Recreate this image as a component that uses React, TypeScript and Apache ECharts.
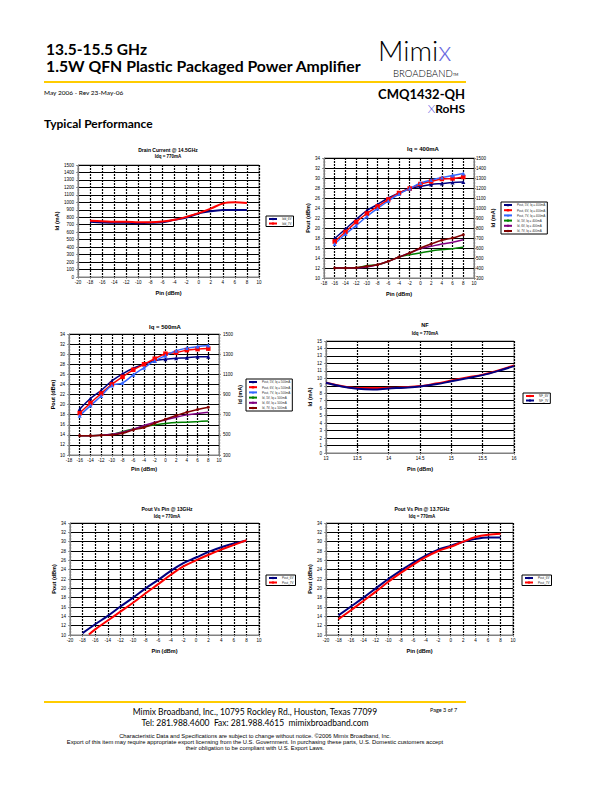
import React, { useEffect, useRef } from "react";
import * as echarts from "echarts";

const FONT = "'Liberation Sans', Arial, sans-serif";
const HFONT = "Lato, 'Open Sans', sans-serif";

// ---- Chart 1: Drain Current @ 14.5GHz ----
const c1Pin = [-18, -16, -14, -12, -10, -8, -6, -4, -2, 0, 2, 4, 6, 8];
const c1Id6V = [739, 730, 725, 725, 721, 725, 734, 766, 797, 851, 880, 896, 898, 898];
const c1Id7V = [752, 748, 739, 739, 734, 734, 743, 766, 806, 855, 915, 985, 1000, 992];
const c1Names = ["Idd_6V", "Idd_7V"];

// ---- Chart 2: Iq = 400mA ----
const c2Pin = [-16, -14, -12, -10, -8, -6, -4, -2, 0, 2, 4, 6, 8];
const c2Pout5 = [17.9, 19.8, 21.7, 23.5, 24.7, 26.0, 27.0, 27.9, 28.3, 28.7, 28.9, 29.1, 29.2];
const c2Pout6 = [17.3, 19.2, 21.2, 22.9, 24.3, 25.7, 27.0, 27.9, 28.8, 29.3, 29.8, 29.9, 30.2];
const c2Pout7 = [16.8, 18.8, 20.5, 22.3, 23.9, 25.4, 26.8, 27.9, 29.0, 29.6, 30.1, 30.5, 30.9];
const c2Id5 = [400, 400, 403, 423, 433, 467, 510, 533, 550, 570, 583, 593, 607];
const c2Id6 = [400, 400, 400, 410, 433, 467, 510, 550, 593, 617, 640, 657, 683];
const c2Id7 = [400, 400, 403, 417, 433, 467, 510, 550, 600, 640, 677, 700, 733];
const c2Names = [
  "Pout, 5V, Iq = 400mA",
  "Pout, 6V, Iq = 400mA",
  "Pout, 7V, Iq = 400mA",
  "Id, 5V, Iq = 400mA",
  "Id, 6V, Iq = 400mA",
  "Id, 7V, Iq = 400mA",
];

// ---- Chart 3: Iq = 500mA ----
const c3Pin = [-16, -14, -12, -10, -8, -6, -4, -2, 0, 2, 4, 6, 8];
const c3Pout5 = [19.1, 21.2, 22.8, 24.7, 26.1, 27.2, 28.0, 28.7, 29.0, 29.2, 29.3, 29.5, 29.5];
const c3Pout6 = [18.3, 20.3, 22.2, 24.0, 25.5, 26.9, 28.0, 29.1, 30.1, 30.3, 30.8, 31.0, 31.1];
const c3Pout7 = [17.8, 19.8, 21.7, 23.8, 24.3, 25.9, 27.3, 28.7, 29.7, 30.7, 31.2, 31.5, 31.7];
const c3Id5 = [492, 492, 495, 505, 532, 558, 582, 598, 612, 622, 625, 631, 638];
const c3Id6 = [492, 492, 495, 505, 525, 555, 592, 625, 648, 675, 698, 711, 724];
const c3Id7 = [492, 492, 495, 499, 515, 549, 572, 615, 655, 691, 724, 751, 774];
const c3Names = [
  "Pout, 5V, Iq = 500mA",
  "Pout, 6V, Iq = 500mA",
  "Pout, 7V, Iq = 500mA",
  "Id, 5V, Iq = 500mA",
  "Id, 6V, Iq = 500mA",
  "Id, 7V, Iq = 500mA",
];

// ---- Chart 4: NF ----
const c4Freq = [13, 13.25, 13.5, 13.75, 14, 14.25, 14.5, 14.75, 15, 15.25, 15.5, 15.75, 16];
const c4NF6 = [9.4, 8.96, 8.7, 8.69, 8.73, 8.82, 8.96, 9.3, 9.7, 10.1, 10.5, 11.06, 11.73];
const c4NF7 = [9.4, 8.9, 8.6, 8.5, 8.64, 8.75, 8.9, 9.2, 9.6, 10.0, 10.43, 11.0, 11.64];
const c4Names = ["NF_6V", "NF_7V"];

// ---- Chart 5: Pout Vs Pin @ 13GHz ----
const c5Pin6 = [-18, -16, -14, -12, -10, -8, -6, -4, -2, 0, 2, 4, 6, 8];
const c5Pout6 = [10.4, 12.3, 14.1, 16.1, 18.0, 20.0, 21.8, 23.75, 25.4, 26.6, 27.8, 28.8, 29.6, 30.2];
const c5Pin7 = [-17, -16, -14, -12, -10, -8, -6, -4, -2, 0, 2, 4, 6, 8];
const c5Pout7 = [10.1, 11.2, 13.1, 15.0, 16.9, 18.95, 20.9, 22.9, 24.7, 26.0, 27.2, 28.3, 29.3, 30.3];
const c5Names = ["Pout_6V", "Pout_7V"];

// ---- Chart 6: Pout Vs Pin @ 13.7GHz ----
const c6Pin = [-18, -16, -14, -12, -10, -8, -6, -4, -2, 0, 2, 4, 6, 8];
const c6Pout6 = [14.2, 16.1, 18.0, 20.0, 22.0, 23.8, 25.5, 27.0, 28.3, 29.1, 30.0, 30.6, 30.9, 30.9];
const c6Pout7 = [13.4, 15.3, 17.3, 19.3, 21.4, 23.3, 25.1, 26.7, 28.0, 28.9, 30.0, 31.0, 31.5, 31.7];
const c6Names = ["Pout_6V", "Pout_7V"];

const NAVY = "#000080";
const RED = "#FF0000";
const LBLUE = "#3366FF";
const GREEN = "#008000";
const PURPLE = "#800080";
const BROWN = "#800000";
const YELLOW = "#FFCC00";

const pairs = (xs: number[], ys: number[]) => xs.map((x, i) => [x, ys[i]]);

const axisLine = { show: true, onZero: false, lineStyle: { color: "#808080", width: 1 } };
const axisTick = { show: true, length: 2, lineStyle: { color: "#808080", width: 0.8 } };
const labelStyle = (margin: number) => ({
  fontSize: 4.5,
  color: "#000",
  fontFamily: FONT,
  margin,
  formatter: (v: number) => String(v),
});
const nameStyle = { fontSize: 5.5, fontWeight: "bold" as const, color: "#000", fontFamily: FONT };

function xAxis(gridIndex: number, min: number, max: number, interval: number, nameGap: number) {
  return {
    type: "value",
    gridIndex,
    min,
    max,
    interval,
    name: "Pin (dBm)",
    nameLocation: "middle",
    nameGap,
    nameTextStyle: nameStyle,
    axisLine,
    axisTick,
    axisLabel: labelStyle(3),
    splitLine: { show: true, lineStyle: { color: "#000", width: 1.2, type: [2, 1] } },
  };
}

function yAxis(
  gridIndex: number,
  min: number,
  max: number,
  interval: number,
  name: string,
  nameGap: number,
  position: "left" | "right" = "left",
  grid = true,
  labelMargin = 4
) {
  return {
    type: "value",
    gridIndex,
    min,
    max,
    interval,
    position,
    name,
    nameLocation: "middle",
    nameGap,
    nameTextStyle: nameStyle,
    axisLine,
    axisTick,
    axisLabel: labelStyle(labelMargin),
    splitLine: { show: grid, lineStyle: { color: "#000", width: 1.2 } },
  };
}

function line(
  name: string,
  xi: number,
  yi: number,
  data: number[][],
  color: string,
  width = 1.8,
  symbol = "none",
  symbolSize = 4
) {
  return {
    type: "line",
    name,
    xAxisIndex: xi,
    yAxisIndex: yi,
    data,
    smooth: 0.35,
    symbol,
    symbolSize,
    showSymbol: symbol !== "none",
    lineStyle: { color, width },
    itemStyle: { color },
    z: 5,
  };
}

function legend(data: string[], left: number, top: number, itemGap: number) {
  return {
    data,
    left,
    top,
    orient: "vertical",
    itemWidth: 8,
    itemHeight: 3,
    itemGap,
    padding: [1.5, 2, 1.5, 2],
    borderColor: "#000",
    borderWidth: 1,
    backgroundColor: "#fff",
    textStyle: { fontSize: 3, color: "#333", fontFamily: FONT },
  };
}

const txt = (
  text: string,
  x: number,
  y: number,
  fontSize: number,
  opts: Record<string, any> = {}
) => ({
  type: "text",
  x,
  y,
  silent: true,
  style: {
    text,
    fontSize,
    lineHeight: opts.lineHeight || fontSize,
    fontFamily: opts.fontFamily || FONT,
    fontWeight: opts.fontWeight || "normal",
    fill: opts.fill || "#000",
    align: opts.align || "center",
    verticalAlign: "middle",
  },
});

const hline = (x1: number, x2: number, y: number) => ({
  type: "line",
  silent: true,
  shape: { x1, y1: y, x2, y2: y },
  style: { stroke: YELLOW, lineWidth: 2.2 },
});

export default function App() {
  const ref = useRef<HTMLDivElement>(null);

  useEffect(() => {
    if (!ref.current) return;
    const chart = echarts.init(ref.current, undefined, { renderer: "svg" });

    const gridBase = { show: true, borderColor: "#808080", borderWidth: 1, backgroundColor: "#fff" };

    const option: any = {
      animation: false,
      grid: [
        { ...gridBase, left: 78, top: 165, width: 181, height: 112 },
        { ...gridBase, left: 324, top: 158, width: 150, height: 120 },
        { ...gridBase, left: 69, top: 334, width: 150, height: 121 },
        { ...gridBase, left: 326, top: 341, width: 188, height: 112 },
        { ...gridBase, left: 70, top: 523, width: 189, height: 112 },
        { ...gridBase, left: 326, top: 523, width: 187, height: 112 },
      ],
      xAxis: [
        xAxis(0, -20, 10, 2, 13),
        xAxis(1, -18, 10, 2, 13),
        xAxis(2, -18, 10, 2, 11),
        xAxis(3, 13, 16, 0.5, 12.5),
        xAxis(4, -20, 10, 2, 12.5),
        xAxis(5, -20, 10, 2, 13),
      ],
      yAxis: [
        yAxis(0, 0, 1500, 100, "Id (mA)", 16),
        yAxis(1, 10, 34, 2, "Pout (dBm)", 9.5),
        yAxis(1, 300, 1500, 100, "Id (mA)", 8, "right", false, 2),
        yAxis(2, 10, 34, 2, "Pout (dBm)", 11),
        yAxis(2, 300, 1500, 200, "Id (mA)", 14, "right", false, 4),
        yAxis(3, 0, 15, 1, "Id (mA)", 13),
        yAxis(4, 10, 34, 2, "Pout (dBm)", 12),
        yAxis(5, 10, 34, 2, "Pout (dBm)", 13),
      ],
      legend: [
        legend(c1Names, 266, 216, 1.5),
        legend(c2Names, 501, 202, 2.2),
        legend(c3Names, 246, 379, 2.2),
        legend(c4Names, 523, 393, 1.5),
        legend(c5Names, 266, 575, 1.5),
        legend(c6Names, 522, 575, 1.5),
      ],
      series: [
        // chart 1
        line(c1Names[0], 0, 0, pairs(c1Pin, c1Id6V), NAVY, 2),
        line(c1Names[1], 0, 0, pairs(c1Pin, c1Id7V), RED, 2),
        // chart 2
        line(c2Names[0], 1, 1, pairs(c2Pin, c2Pout5), NAVY, 1.5, "triangle", 4),
        line(c2Names[1], 1, 1, pairs(c2Pin, c2Pout6), RED, 1.5, "rect", 4.5),
        line(c2Names[2], 1, 1, pairs(c2Pin, c2Pout7), LBLUE, 1.5, "triangle", 4),
        line(c2Names[3], 1, 2, pairs(c2Pin, c2Id5), GREEN, 1.5),
        line(c2Names[4], 1, 2, pairs(c2Pin, c2Id6), PURPLE, 1.5),
        line(c2Names[5], 1, 2, pairs(c2Pin, c2Id7), BROWN, 1.5, "circle", 3),
        // chart 3
        line(c3Names[0], 2, 3, pairs(c3Pin, c3Pout5), NAVY, 1.5, "triangle", 4),
        line(c3Names[1], 2, 3, pairs(c3Pin, c3Pout6), RED, 1.5, "rect", 4.5),
        line(c3Names[2], 2, 3, pairs(c3Pin, c3Pout7), LBLUE, 1.5, "triangle", 4),
        line(c3Names[3], 2, 4, pairs(c3Pin, c3Id5), GREEN, 1.5),
        line(c3Names[4], 2, 4, pairs(c3Pin, c3Id6), PURPLE, 1.5),
        line(c3Names[5], 2, 4, pairs(c3Pin, c3Id7), BROWN, 1.5, "circle", 3),
        // chart 4
        line(c4Names[0], 3, 5, pairs(c4Freq, c4NF6), RED, 2),
        line(c4Names[1], 3, 5, pairs(c4Freq, c4NF7), NAVY, 2),
        // chart 5
        line(c5Names[0], 4, 6, pairs(c5Pin6, c5Pout6), NAVY, 2),
        line(c5Names[1], 4, 6, pairs(c5Pin7, c5Pout7), RED, 2),
        // chart 6
        line(c6Names[0], 5, 7, pairs(c6Pin, c6Pout6), NAVY, 2),
        line(c6Names[1], 5, 7, pairs(c6Pin, c6Pout7), RED, 2),
      ],
      graphic: [
        // header
        txt("13.5-15.5 GHz", 46, 48.5, 15.5, { fontFamily: HFONT, fontWeight: "bold", align: "left" }),
        txt("1.5W QFN Plastic Packaged Power Amplifier", 46, 65.5, 15.8, {
          fontFamily: HFONT,
          fontWeight: "bold",
          align: "left",
        }),
        {
          type: "text",
          x: 378,
          y: 50,
          silent: true,
          style: {
            text: "{a|Mimi}{b|x}",
            verticalAlign: "middle",
            align: "left",
            lineHeight: 22,
            rich: {
              a: { fontSize: 28, lineHeight: 22, fontFamily: HFONT, fontWeight: 300, fill: "#000" },
              b: { fontSize: 28, lineHeight: 22, fontFamily: HFONT, fontWeight: 300, fill: "#6A6AE0" },
            },
          },
        },
        txt("BROADBAND", 393, 73, 9.6, { fontFamily: HFONT, fontWeight: 300, align: "left" }),
        txt("TM", 453, 75, 3.5, { fontFamily: HFONT, align: "left" }),
        hline(44, 466, 82),
        txt("May 2006 - Rev 23-May-06", 44, 92, 6.5, { fontFamily: HFONT, align: "left" }),
        txt("CMQ1432-QH", 465, 94, 13, { fontFamily: HFONT, fontWeight: "bold", align: "right" }),
        {
          type: "text",
          x: 465,
          y: 108,
          silent: true,
          style: {
            text: "{b|X}{a|RoHS}",
            verticalAlign: "middle",
            align: "right",
            lineHeight: 12,
            rich: {
              a: { fontSize: 12, lineHeight: 12, fontFamily: HFONT, fontWeight: "bold", fill: "#000" },
              b: { fontSize: 12, lineHeight: 12, fontFamily: HFONT, fontWeight: 300, fill: "#4A4AE0" },
            },
          },
        },
        txt("Typical Performance", 44, 123, 12, { fontFamily: HFONT, fontWeight: "bold", align: "left" }),
        // chart titles
        txt("Drain Current @ 14.5GHz", 168, 150, 5, { fontWeight: "bold" }),
        txt("Idq = 770mA", 168, 156, 4.5, { fontWeight: "bold" }),
        txt("Iq = 400mA", 423, 149, 6, { fontWeight: "bold" }),
        txt("Iq = 500mA", 165, 327, 6, { fontWeight: "bold" }),
        txt("NF", 425, 325, 5.5, { fontWeight: "bold" }),
        txt("Idq = 770mA", 425, 333, 4.5, { fontWeight: "bold" }),
        txt("Pout Vs Pin @ 13GHz", 167, 509, 5, { fontWeight: "bold" }),
        txt("Idq = 770mA", 167, 516, 4.5, { fontWeight: "bold" }),
        txt("Pout Vs Pin @ 13.7GHz", 422, 509, 5, { fontWeight: "bold" }),
        txt("Idq = 770mA", 422, 516, 4.5, { fontWeight: "bold" }),
        // footer
        hline(44, 466, 702),
        txt("Mimix Broadband, Inc., 10795 Rockley Rd., Houston, Texas 77099", 255, 712, 8.5, {
          fontFamily: HFONT,
        }),
        txt("Tel: 281.988.4600  Fax: 281.988.4615  mimixbroadband.com", 255, 722.5, 8.5, {
          fontFamily: HFONT,
        }),
        txt("Page 3 of 7", 430, 710, 5.5, { fontFamily: HFONT, align: "left" }),
        txt(
          "Characteristic Data and Specifications are subject to change without notice. ©2006 Mimix Broadband, Inc.",
          255,
          736,
          5.8,
          { lineHeight: 5.6 }
        ),
        txt(
          "Export of this item may require appropriate export licensing from the U.S. Government. In purchasing these parts, U.S. Domestic customers accept",
          255,
          742,
          5.8,
          { lineHeight: 5.6 }
        ),
        txt("their obligation to be compliant with U.S. Export Laws.", 255, 748, 5.8, { lineHeight: 5.6 }),
      ],
    };

    chart.setOption(option);
    return () => chart.dispose();
  }, []);

  return (
    <div
      ref={ref}
      style={{ position: "absolute", left: 0, top: 0, width: 612, height: 792, background: "#fff" }}
    />
  );
}
